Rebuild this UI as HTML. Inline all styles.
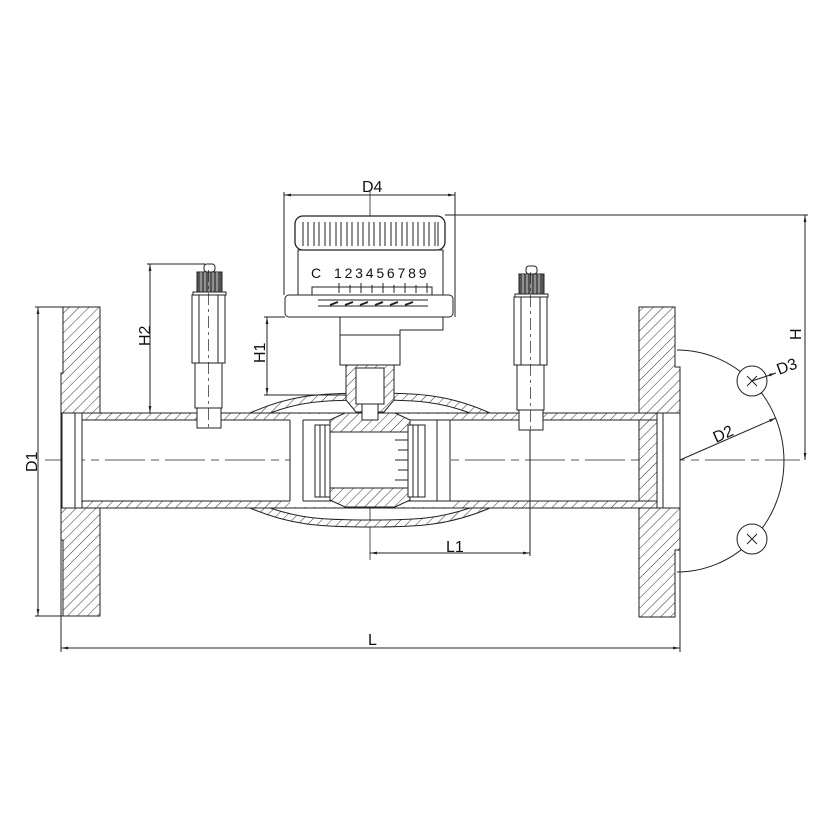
<!DOCTYPE html>
<html><head><meta charset="utf-8"><style>
html,body{margin:0;padding:0;background:#fff}
svg{display:block}
text{font-family:"Liberation Sans",sans-serif;font-size:16px;fill:#111}
</style></head><body>
<svg width="828" height="828" viewBox="0 0 828 828" xmlns="http://www.w3.org/2000/svg">
<defs>
<pattern id="h" patternUnits="userSpaceOnUse" width="7" height="7" patternTransform="rotate(45)">
<rect width="7" height="7" fill="#fff"/><line x1="0" y1="0" x2="0" y2="7" stroke="#333" stroke-width="1"/>
</pattern>
<marker id="a" viewBox="0 0 10 10" refX="10" refY="5" markerWidth="7" markerHeight="7" orient="auto-start-reverse"><path d="M0,3 L10,5 L0,7 z" fill="#222"/></marker>
</defs>
<g stroke="#222" stroke-width="1" fill="none">
<line x1="45" y1="460" x2="800" y2="460" stroke-dasharray="40,6,8,6" stroke-width="0.8"/>
<line x1="370" y1="190" x2="370" y2="560" stroke-width="0.8"/>
<path d="M63,307 H100 V413 H82 V508 H100 V616 H63 V540 H61 V373 H63 Z" fill="url(#h)"/>
<rect x="62" y="413" width="20" height="95" fill="#fff"/>
<line x1="75" y1="413" x2="75" y2="508"/>
<path d="M639,307 H675 V367 H680 V550 H675 V617 H639 Z" fill="url(#h)"/>
<rect x="657" y="413" width="23" height="95" fill="#fff"/>
<line x1="663" y1="413" x2="663" y2="508"/><line x1="680" y1="413" x2="680" y2="508"/>
<rect x="82" y="413" width="575" height="7" fill="url(#h)"/>
<rect x="82" y="501" width="575" height="7" fill="url(#h)"/>
<path d="M250,413 C290,395 320,393 370,393 C420,393 450,395 490,413 L470,413 C440,402 420,400 370,400 C320,400 300,402 270,413 Z" fill="url(#h)"/>
<path d="M250,508 C290,525 320,527 370,527 C420,527 450,525 490,508 L470,508 C440,518 420,520 370,520 C320,520 300,518 270,508 Z" fill="url(#h)"/>
<rect x="290" y="414" width="160" height="93" fill="#fff" stroke="none"/>
<line x1="290" y1="420" x2="290" y2="501"/><line x1="450" y1="420" x2="450" y2="501"/>
<line x1="303" y1="420" x2="303" y2="501"/><line x1="437" y1="420" x2="437" y2="501"/>
<path d="M303,420 H450 M303,501 H450"/>
<path d="M330,420 L345,413 L395,413 L410,420 L410,432 L330,432 Z" fill="url(#h)"/>
<path d="M330,488 L410,488 L410,500 L395,507 L345,507 L330,500 Z" fill="url(#h)"/>
<rect x="315" y="425" width="15" height="72" fill="#fff"/><rect x="320" y="425" width="5" height="72"/>
<rect x="408" y="425" width="17" height="72" fill="#fff"/><rect x="413" y="425" width="5" height="72"/>
<rect x="330" y="432" width="78" height="56" fill="#fff"/>
<path d="M395,440 H408 M398,450 H408 M395,460 H408 M398,470 H408 M395,480 H408"/>
<path d="M346,365 H394 V400 L384,412 H356 L346,400 Z" fill="url(#h)"/>
<rect x="356" y="368" width="28" height="36" fill="#fff"/>
<rect x="362" y="404" width="16" height="16" fill="#fff"/>
<path d="M333,317 H443 V330 H400 V345 H340 V317 Z" fill="#fff"/>
<rect x="340" y="335" width="60" height="30" fill="#fff"/>
<rect x="285" y="295" width="168" height="22" rx="4" fill="#fff"/>
<rect x="298" y="250" width="145" height="45" fill="#fff"/>
<rect x="295" y="216" width="150" height="34" rx="8" fill="#fff" stroke-width="1.3"/>
<g stroke-width="1">
<path d="M303,222 V246 M314,222 V246 M325,222 V246 M336,222 V246 M347,222 V246 M358,222 V246 M369,222 V246 M380,222 V246 M391,222 V246 M402,222 V246 M413,222 V246 M424,222 V246 M435,222 V246"/>
<path d="M308,222 V246 M319,222 V246 M330,222 V246 M341,222 V246 M352,222 V246 M363,222 V246 M374,222 V246 M385,222 V246 M396,222 V246 M407,222 V246 M418,222 V246 M429,222 V246 M438,222 V246"/>
</g>
<rect x="312" y="287" width="120" height="8"/>
<path d="M318,300 H428 M318,306 H428" />
<path d="M339,283 V293 M350,285 V293 M361,283 V293 M372,285 V293 M383,283 V293 M394,285 V293 M405,283 V293 M416,285 V293 M427,283 V293"/>
<path d="M330,305 l8,-3 M345,305 l8,-3 M360,305 l8,-3 M375,305 l8,-3 M390,305 l8,-3 M405,305 l8,-3" stroke-width="2"/>
<g id="g1">
<rect x="197" y="272" width="25" height="20" fill="#555" stroke="#222"/>
<path d="M201,272 V292 M205,272 V292 M209,272 V292 M213,272 V292 M217,272 V292" stroke="#ccc"/>
<rect x="204" y="264" width="11" height="8" rx="3" fill="#fff"/>
<rect x="193" y="292" width="33" height="3" fill="#fff"/>
<rect x="192" y="295" width="33" height="68" fill="#fff"/>
<line x1="199" y1="295" x2="199" y2="363"/><line x1="218" y1="295" x2="218" y2="363"/>
<rect x="195" y="363" width="27" height="45" fill="#fff"/>
<rect x="197" y="408" width="24" height="20" fill="#fff"/>
<line x1="208.5" y1="270" x2="208.5" y2="430" stroke-dasharray="12,4,3,4" stroke-width="0.7"/>
</g>
<use href="#g1" transform="translate(322,2)"/>
<line x1="38" y1="307" x2="38" y2="616" marker-start="url(#a)" marker-end="url(#a)"/>
<path d="M35,307 H63 M35,616 H63"/>
<line x1="61" y1="648" x2="680" y2="648" marker-start="url(#a)" marker-end="url(#a)"/>
<path d="M61,540 V652 M680,550 V652"/>
<line x1="150" y1="264" x2="150" y2="413" marker-start="url(#a)" marker-end="url(#a)"/>
<path d="M147,264 H205"/>
<line x1="267" y1="317" x2="267" y2="395" marker-start="url(#a)" marker-end="url(#a)"/>
<path d="M264,317 H285 M264,395 H346"/>
<line x1="284" y1="195" x2="455" y2="195" marker-start="url(#a)" marker-end="url(#a)"/>
<path d="M284,192 V295 M455,192 V317"/>
<line x1="805" y1="215" x2="805" y2="460" marker-start="url(#a)" marker-end="url(#a)"/>
<path d="M445,215 H808"/>
<line x1="370" y1="553" x2="530" y2="553" marker-start="url(#a)" marker-end="url(#a)"/>
<line x1="530" y1="430" x2="530" y2="556"/>
<path d="M677,350 A106,110 0 0 1 677,572"/>
<circle cx="752" cy="381" r="15" fill="#fff"/>
<circle cx="752" cy="539" r="15" fill="#fff"/>
<path d="M747,376 l10,10 M757,376 l-10,10 M747,534 l10,10 M757,534 l-10,10"/>
<line x1="680" y1="460" x2="776" y2="418" marker-end="url(#a)"/>
<line x1="752" y1="381" x2="776" y2="373" marker-end="url(#a)"/>
</g>
<text x="362" y="192">D4</text>
<text x="311" y="278" style="font-size:14px">C</text>
<text x="334" y="278" style="font-size:14px;letter-spacing:2.8px">123456789</text>
<text x="368" y="645">L</text>
<text x="446" y="552">L1</text>
<text transform="translate(37,472) rotate(-90)">D1</text>
<text transform="translate(150,346) rotate(-90)">H2</text>
<text transform="translate(265,363) rotate(-90)">H1</text>
<text transform="translate(801,340) rotate(-90)">H</text>
<text transform="translate(716,443) rotate(-24)">D2</text>
<text transform="translate(779,375) rotate(-20)">D3</text>
</svg>
</body></html>
